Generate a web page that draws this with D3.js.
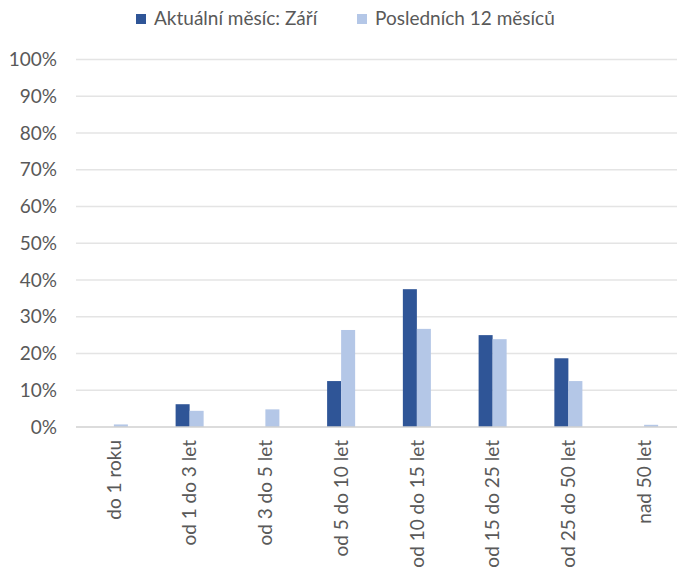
<!DOCTYPE html>
<html>
<head>
<meta charset="utf-8">
<script src="https://cdn.jsdelivr.net/npm/d3@7"></script>
<style>
  body { margin: 0; background: #fff; }
  text { font-family: Lato, "Open Sans", sans-serif; fill: #595959; }
</style>
</head>
<body>
<svg id="chart" width="677" height="570"></svg>
<script>
var CATEGORIES = ["do 1 roku", "od 1 do 3 let", "od 3 do 5 let", "od 5 do 10 let",
  "od 10 do 15 let", "od 15 do 25 let", "od 25 do 50 let", "nad 50 let"];
var SERIES_NAMES = ["Aktuální měsíc: Září", "Posledních 12 měsíců"];
var CURRENT = [0, 6.2, 0, 12.5, 37.5, 25.0, 18.7, 0];
var LAST12 = [0.7, 4.4, 4.8, 26.4, 26.7, 23.9, 12.5, 0.6];
var Y_TICKS = [0, 10, 20, 30, 40, 50, 60, 70, 80, 90, 100];

var COLORS = ["#2f5597", "#b4c7e7"];
var FONT_SIZE = 19;

var svg = d3.select("#chart");

var x = d3.scaleBand().domain(CATEGORIES).range([76, 682]).paddingInner(0.63).paddingOuter(0.315);
var xs = d3.scaleBand().domain([0, 1]).range([0, x.bandwidth()]);
var y = d3.scaleLinear().domain([0, 100]).range([427, 59.5]);

// gridlines
svg.append("g").selectAll("line")
  .data(Y_TICKS.filter(function(t) { return t > 0; }))
  .enter().append("line")
  .attr("x1", 76).attr("x2", 677)
  .attr("y1", function(d) { return y(d); })
  .attr("y2", function(d) { return y(d); })
  .attr("stroke", "#e4e4e4")
  .attr("stroke-width", 1.3);

// y tick labels
svg.append("g").selectAll("text")
  .data(Y_TICKS)
  .enter().append("text")
  .attr("x", 57)
  .attr("y", function(d) { return y(d); })
  .attr("dy", "0.35em")
  .attr("text-anchor", "end")
  .style("font-size", FONT_SIZE + "px")
  .text(function(d) { return d + "%"; });

// bars
var series = [CURRENT, LAST12];
series.forEach(function(vals, si) {
  svg.append("g").selectAll("rect")
    .data(vals)
    .enter().append("rect")
    .attr("x", function(d, i) { return x(CATEGORIES[i]) + xs(si); })
    .attr("width", xs.bandwidth())
    .attr("y", function(d) { return y(d); })
    .attr("height", function(d) { return y(0) - y(d); })
    .attr("fill", COLORS[si]);
});

// axis line
svg.append("line")
  .attr("x1", 76).attr("x2", 677)
  .attr("y1", y(0)).attr("y2", y(0))
  .attr("stroke", "#d0d0d0")
  .attr("stroke-width", 1.5);

// x labels, rotated
svg.append("g").selectAll("text")
  .data(CATEGORIES)
  .enter().append("text")
  .attr("transform", function(d) {
    return "translate(" + (x(d) + x.bandwidth() / 2) + ",440) rotate(-90)";
  })
  .attr("dy", "0.35em")
  .attr("text-anchor", "end")
  .style("font-size", FONT_SIZE + "px")
  .text(function(d) { return d; });

// legend
var legendX = [136, 357];
SERIES_NAMES.forEach(function(name, i) {
  svg.append("rect")
    .attr("x", legendX[i]).attr("y", 14)
    .attr("width", 10).attr("height", 10)
    .attr("fill", COLORS[i]);
  svg.append("text")
    .attr("x", legendX[i] + 18).attr("y", 25)
    .style("font-size", FONT_SIZE + "px")
    .text(name);
});
</script>
</body>
</html>
